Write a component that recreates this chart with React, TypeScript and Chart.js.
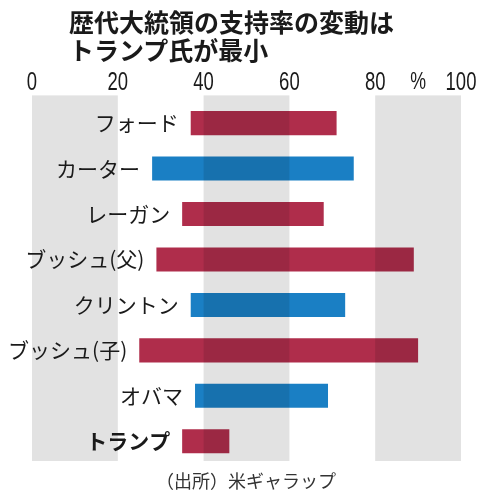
import React, { useEffect, useRef } from "react";
import { Chart, registerables } from "chart.js";

Chart.register(...registerables);

const presidents = ["フォード", "カーター", "レーガン", "ブッシュ(父)", "クリントン", "ブッシュ(子)", "オバマ", "トランプ"];
const lows = [37, 28, 35, 29, 37, 25, 38, 35];
const highs = [71, 75, 68, 89, 73, 90, 69, 46];
const parties = ["R", "D", "R", "R", "D", "R", "D", "R"];
const bands = [[0, 20], [40, 60], [80, 100]];
const tickValues = [0, 20, 40, 60, 80, 100];
const unitTickValue = 90;

const RED = "#af2d4b";
const BLUE = "#1a7fc4";
const GREY = "#e2e2e2";
const JP = "'Noto Sans CJK JP', 'Noto Sans', sans-serif";
const NUM = "'Liberation Sans', 'Roboto', sans-serif";

const tickText = (v: number) => (v === unitTickValue ? "%" : String(v));

const decorPlugin = {
  id: "decor",
  beforeDraw(chart: any) {
    const ctx = chart.ctx;
    ctx.save();
    ctx.fillStyle = "#ffffff";
    ctx.fillRect(0, 0, chart.width, chart.height);
    ctx.restore();
  },
  beforeDatasetsDraw(chart: any) {
    const ctx = chart.ctx;
    const xs = chart.scales.x;
    const area = chart.chartArea;
    ctx.save();
    ctx.fillStyle = GREY;
    bands.forEach(([a, b]) => {
      const x0 = xs.getPixelForValue(a);
      const x1 = xs.getPixelForValue(b);
      ctx.fillRect(x0, area.top - 5, x1 - x0, area.bottom - area.top + 2);
    });
    ctx.restore();
    ctx.save();
    ctx.globalCompositeOperation = "multiply";
  },
  afterDatasetsDraw(chart: any) {
    const ctx = chart.ctx;
    ctx.restore();
    const xs = chart.scales.x;
    const ys = chart.scales.y;
    const area = chart.chartArea;
    ctx.save();
    ctx.fillStyle = "#1a1a1a";
    ctx.textAlign = "right";
    ctx.textBaseline = "middle";
    presidents.forEach((name, i) => {
      const bold = i === presidents.length - 1;
      ctx.font = `${bold ? "bold " : ""}21px ${JP}`;
      const x = xs.getPixelForValue(lows[i]) - 12;
      const y = ys.getPixelForValue(i);
      ctx.fillText(name, x, y);
    });
    ctx.restore();

    // condensed tick labels drawn at the x scale's tick positions
    ctx.save();
    ctx.fillStyle = "#1a1a1a";
    ctx.textAlign = "center";
    ctx.textBaseline = "alphabetic";
    xs.ticks.forEach((t: any) => {
      const x = xs.getPixelForValue(t.value);
      const isUnit = t.value === unitTickValue;
      ctx.font = `${isUnit ? 24 : 25}px ${NUM}`;
      ctx.save();
      ctx.translate(x, area.top - (isUnit ? 11 : 10));
      ctx.scale(0.74, 1);
      ctx.fillText(tickText(t.value), 0, 0);
      ctx.restore();
    });
    ctx.restore();
  },
};

export default function App() {
  const ref = useRef<HTMLCanvasElement | null>(null);

  useEffect(() => {
    document.body.style.margin = "0";
    if (!ref.current) return;
    const chart = new Chart(ref.current, {
      type: "bar",
      data: {
        labels: presidents,
        datasets: [
          {
            data: presidents.map((_, i) => [lows[i], highs[i]]),
            backgroundColor: parties.map((p) => (p === "R" ? RED : BLUE)),
            borderWidth: 0,
            barPercentage: 0.53,
            categoryPercentage: 1,
          },
        ],
      },
      options: {
        indexAxis: "y",
        animation: false,
        responsive: false,
        devicePixelRatio: 1,
        layout: { padding: { left: 32, right: 39, top: 70, bottom: 36 } },
        plugins: {
          legend: { display: false },
          title: { display: false },
          tooltip: { enabled: false },
        },
        scales: {
          x: {
            position: "top",
            min: 0,
            max: 100,
            grid: { display: false, drawTicks: false },
            border: { display: false },
            afterBuildTicks(scale: any) {
              scale.ticks = [...tickValues, unitTickValue]
                .sort((a, b) => a - b)
                .map((v) => ({ value: v }));
            },
            ticks: {
              autoSkip: false,
              maxRotation: 0,
              padding: 2,
              color: "rgba(0,0,0,0)",
              font: { family: NUM, size: 22 },
              callback: (v: any) => tickText(v),
            },
          },
          y: {
            display: false,
          },
        },
      },
      plugins: [decorPlugin],
    } as any);
    return () => chart.destroy();
  }, []);

  return (
    <div style={{ position: "relative", width: 500, height: 500, background: "#fff" }}>
      <canvas ref={ref} width={500} height={500} style={{ position: "absolute", left: 0, top: 0, width: 500, height: 500 }} />
      <div
        style={{
          position: "absolute",
          left: 69,
          top: 7,
          fontFamily: JP,
          fontWeight: "bold",
          fontSize: 25,
          lineHeight: "28px",
          color: "#1a1a1a",
          whiteSpace: "nowrap",
        }}
      >
        歴代大統領の支持率の変動は
        <br />
        トランプ氏が最小
      </div>
      <div
        style={{
          position: "absolute",
          left: 0,
          width: 492,
          top: 468,
          textAlign: "center",
          fontFamily: JP,
          fontSize: 18,
          lineHeight: "24px",
          color: "#333",
          whiteSpace: "nowrap",
        }}
      >
        （出所）米ギャラップ
      </div>
    </div>
  );
}
